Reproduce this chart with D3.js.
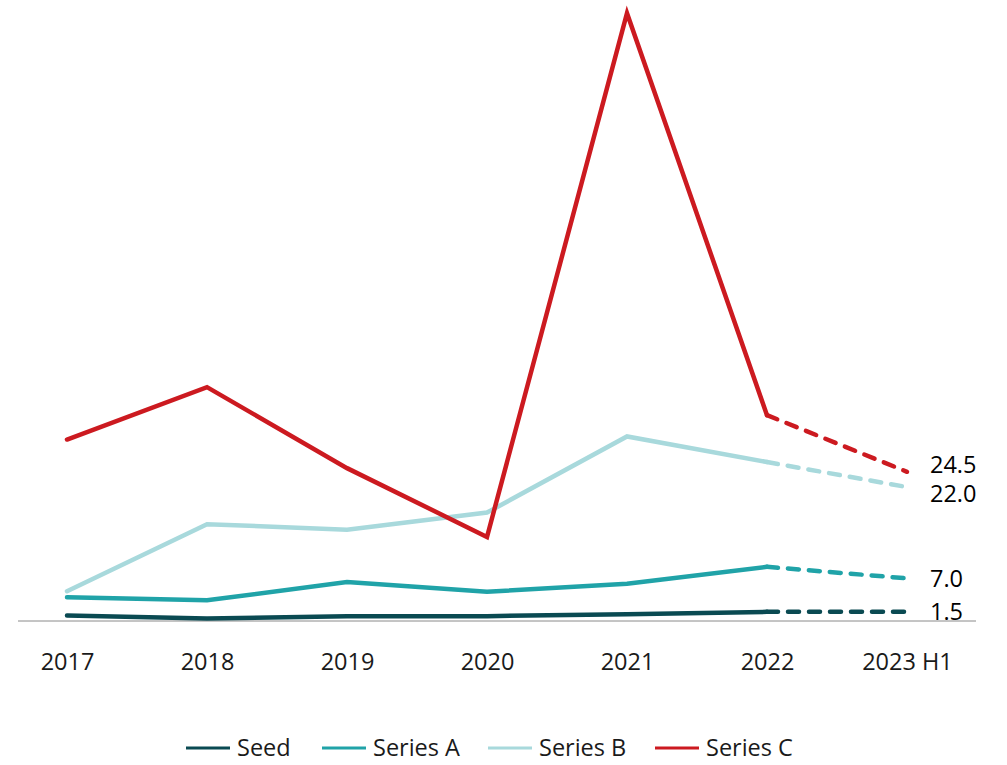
<!DOCTYPE html>
<html lang="en">
<head>
<meta charset="utf-8">
<title>Funding by stage</title>
<script src="https://d3js.org/d3.v7.min.js"></script>
<style>
body{
  margin: 0;
  background: #fff;
}
#chart text{
  font-family: "Open Sans", sans-serif;
  font-size: 23.5px;
  fill: #1a1a1a;
}
</style>
</head>
<body>
<div id="chart"></div>

<script>
    // data
    var years = ["2017", "2018", "2019", "2020", "2021", "2022", "2023 H1"];
    var seed    = [0.9, 0.4, 0.8, 0.8, 1.1, 1.5, 1.5];
    var seriesA = [3.9, 3.4, 6.4, 4.8, 6.1, 8.9, 7.0];
    var seriesB = [4.9, 15.9, 15.0, 17.8, 30.3, 26.1, 22.0];
    var seriesC = [29.8, 38.4, 25.1, 13.8, 99.8, 33.8, 24.5];
    var names   = ["Seed", "Series A", "Series B", "Series C"];
    var colors  = ["#0a4a52", "#20a3a8", "#a8d9dc", "#cc1a20"];

    var series = [seed, seriesA, seriesB, seriesC];

    var svg = d3.select("#chart").append("svg")
      .attr("width", 1007)
      .attr("height", 765);

    var x = d3.scalePoint().domain(years).range([67, 907]);
    var y = d3.scaleLinear().domain([0, 100]).range([621, 12]);

    // baseline
    svg.append("line")
      .attr("x1", 18).attr("x2", 976)
      .attr("y1", y(0)).attr("y2", y(0))
      .attr("stroke", "#8a8a8a")
      .attr("stroke-width", 1);

    // x axis labels
    var xAxis = svg.append("g")
      .attr("transform", "translate(0," + y(0) + ")")
      .call(d3.axisBottom(x).tickSize(0).tickPadding(32));
    xAxis.select(".domain").remove();
    xAxis.selectAll("text")
      .attr("font-family", null)
      .attr("font-size", null)
      .attr("fill", "#1a1a1a");

    var line = d3.line()
      .x(function(d) { return x(d.year); })
      .y(function(d) { return y(d.v); });

    var last = years.length - 1;

    series.forEach(function(vals, i) {
      var pts = vals.map(function(v, j) { return {year: years[j], v: v}; });
      // solid part up to 2022
      svg.append("path")
        .datum(pts.slice(0, last))
        .attr("d", line)
        .attr("fill", "none")
        .attr("stroke", colors[i])
        .attr("stroke-width", 4.5)
        .attr("stroke-linejoin", "miter")
        .attr("stroke-linecap", "round");
      // dashed estimate for 2023 H1
      svg.append("path")
        .datum(pts.slice(last - 1))
        .attr("d", line)
        .attr("fill", "none")
        .attr("stroke", colors[i])
        .attr("stroke-width", 4.5)
        .attr("stroke-dasharray", "11,10")
        .attr("stroke-linecap", "round");
    });

    // end labels, nudged apart when they overlap
    var labels = series.map(function(vals) {
      return {v: vals[last], y: y(vals[last])};
    }).sort(function(a, b) { return a.y - b.y; });
    var gap = 29;
    for (var k = 1; k < labels.length; k++) {
      var d = labels[k].y - labels[k - 1].y;
      if (d < gap) {
        var push = (gap - d) / 2;
        labels[k - 1].y -= push;
        labels[k].y += push;
      }
    }
    svg.selectAll(".endlabel")
      .data(labels)
      .enter()
      .append("text")
      .attr("class", "endlabel")
      .attr("x", 930)
      .attr("y", function(d) { return d.y; })
      .attr("dy", "0.36em")
      .style("fill", "#000")
      .text(function(d) { return d3.format(".1f")(d.v); });

    // legend
    var legendX = [186, 322, 488, 655];
    var legend = svg.selectAll(".leg")
      .data(names)
      .enter()
      .append("g")
      .attr("class", "leg")
      .attr("transform", function(d, i) { return "translate(" + legendX[i] + ",748)"; });
    legend.append("line")
      .attr("x1", 0).attr("x2", 44)
      .attr("stroke", function(d, i) { return colors[i]; })
      .attr("stroke-width", 3);
    legend.append("text")
      .attr("x", 51)
      .attr("dy", "0.36em")
      .text(function(d) { return d; });
</script>
</body>
</html>
